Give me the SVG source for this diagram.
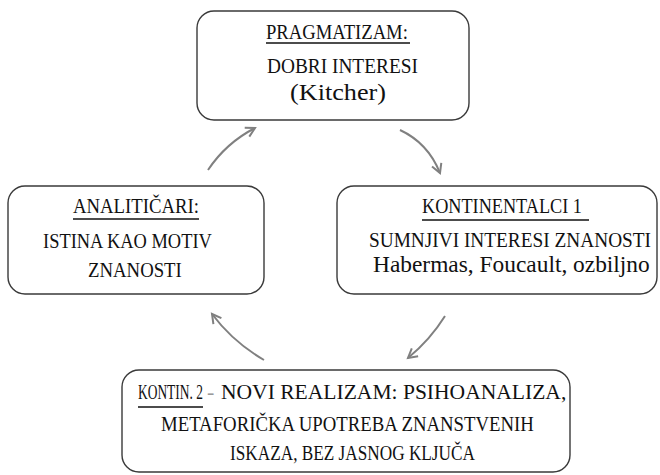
<svg xmlns="http://www.w3.org/2000/svg" width="660" height="475" viewBox="0 0 660 475">
<style>
.box{fill:#fff;stroke:#3a3a3a;stroke-width:1.4}
.t{font-family:"Liberation Serif","Times New Roman",serif;font-size:22px;fill:#111}
.lc{font-size:23px}
.ul{stroke:#111;stroke-width:1.6}
.arr{fill:none;stroke:#808080;stroke-width:2}
</style>
<defs>
<marker id="ah" markerUnits="userSpaceOnUse" markerWidth="14" markerHeight="14" viewBox="-10 -7 14 14" refX="0" refY="0" orient="auto">
<path d="M-9,-5 L0,0 L-9,5" fill="none" stroke="#808080" stroke-width="2"/>
</marker>
</defs>
<g id="connectors">
<path class="arr" d="M208,170 Q226,143 255,128" marker-end="url(#ah)"/>
<path class="arr" d="M400,130 Q428,143 440,173" marker-end="url(#ah)"/>
<path class="arr" d="M445,316 Q430,340 408,358" marker-end="url(#ah)"/>
<path class="arr" d="M264,360 Q233,342 212,314" marker-end="url(#ah)"/>
</g>
<g id="pragmatizam">
<rect class="box" x="197" y="11" width="272" height="109" rx="17"/>
<text class="t" transform="translate(266,39) scale(0.848,1)">PRAGMATIZAM:</text>
<line class="ul" x1="266" y1="43" x2="410" y2="43"/>
<text class="t" transform="translate(267,73) scale(0.879,1)">DOBRI INTERESI</text>
<text class="t lc" transform="translate(290,100) scale(1.139,1)">(Kitcher)</text>
</g>
<g id="analiticari">
<rect class="box" x="8" y="186" width="256" height="108" rx="17"/>
<text class="t" transform="translate(73,213) scale(0.852,1)">ANALITIČARI:</text>
<line class="ul" x1="73" y1="219" x2="199" y2="219"/>
<text class="t" transform="translate(43,248) scale(0.838,1)">ISTINA KAO MOTIV</text>
<text class="t" transform="translate(88,277) scale(0.854,1)">ZNANOSTI</text>
</g>
<g id="kontinentalci1">
<rect class="box" x="337" y="186" width="320" height="108" rx="17"/>
<text class="t" transform="translate(422,213) scale(0.829,1)">KONTINENTALCI 1</text>
<line class="ul" x1="422" y1="220" x2="589" y2="220"/>
<text class="t" transform="translate(369,247) scale(0.878,1)">SUMNJIVI INTERESI ZNANOSTI</text>
<text class="t lc" transform="translate(373,272) scale(1.018,1)">Habermas, Foucault, ozbiljno</text>
</g>
<g id="kontin2">
<rect class="box" x="122" y="370" width="448" height="102" rx="17"/>
<text class="t" transform="translate(138,399) scale(0.611,1)">KONTIN. 2</text>
<line class="ul" x1="138" y1="407" x2="203" y2="407"/>
<text class="t" x="207" y="399" style="fill:#9a9a9a">-</text>
<text class="t" transform="translate(221,399) scale(0.98,1)">NOVI REALIZAM: PSIHOANALIZA,</text>
<text class="t" transform="translate(161,431) scale(0.854,1)">METAFORIČKA UPOTREBA ZNANSTVENIH</text>
<text class="t" transform="translate(230,460) scale(0.783,1)">ISKAZA, BEZ JASNOG KLJUČA</text>
</g>
</svg>
